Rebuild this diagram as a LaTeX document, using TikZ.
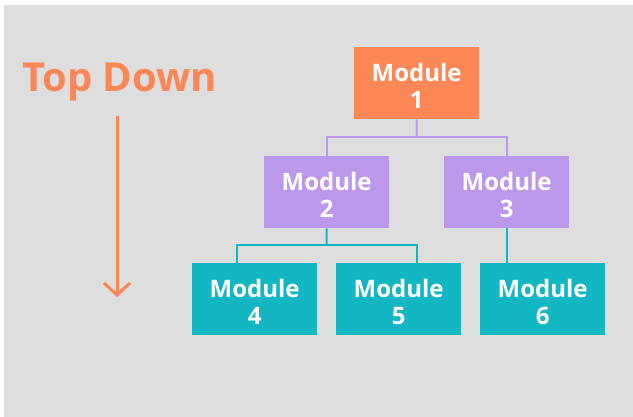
\documentclass[tikz,border=0pt]{standalone}
\usepackage{fontspec}
\setmainfont{Open Sans}
\usetikzlibrary{arrows.meta}
\definecolor{bgc}{HTML}{DEDEDE}
\definecolor{orgc}{HTML}{FC8756}
\definecolor{purc}{HTML}{BC98EB}
\definecolor{tealc}{HTML}{13B7C2}
\newcommand{\topstrut}{\rule{0pt}{24pt}}
\begin{document}
\begin{tikzpicture}[x=1pt,y=-1pt,
  box/.style={minimum width=125pt, minimum height=72pt, inner sep=0pt, text=white,
    font=\fontsize{24}{27}\selectfont\bfseries, align=center, anchor=north west},
  purline/.style={draw=purc, line width=2pt},
  tealline/.style={draw=tealc, line width=2pt}]
\useasboundingbox (0,0) rectangle (633,417);
\fill[bgc] (4,5) rectangle (633,417);
\node[anchor=base west, inner sep=0pt, text=orgc, font=\fontsize{40}{44}\selectfont\bfseries] (title) at (22,92) {Top Down};
\coordinate (a0) at (117,116);
\coordinate (a1) at (117,297);
\draw[orgc, line width=3pt, -{Straight Barb[length=12pt,width=26pt,line width=3pt]}] (a0) -- (a1);
\node[box, fill=orgc] (m1) at (354,47) {\topstrut Module\\1};
\node[box, fill=purc] (m2) at (264,156) {\topstrut Module\\2};
\node[box, fill=purc] (m3) at (444,156) {\topstrut Module\\3};
\node[box, fill=tealc] (m4) at (192,263) {\topstrut Module\\4};
\node[box, fill=tealc] (m5) at (336,263) {\topstrut Module\\5};
\node[box, fill=tealc] (m6) at (480,263) {\topstrut Module\\6};
\coordinate (j1) at (416.5,137);
\coordinate (j2) at (326.5,245);
\draw[purline] (m1.south) -- (j1);
\draw[purline] (m2.north) |- (j1) -| (m3.north);
\draw[tealline] (m2.south) -- (j2);
\draw[tealline] ([xshift=45pt]m4.north west) |- (j2) -| ([xshift=81pt]m5.north west);
\draw[tealline] (m3.south) -- (m3.south |- m6.north);
\end{tikzpicture}
\end{document}
